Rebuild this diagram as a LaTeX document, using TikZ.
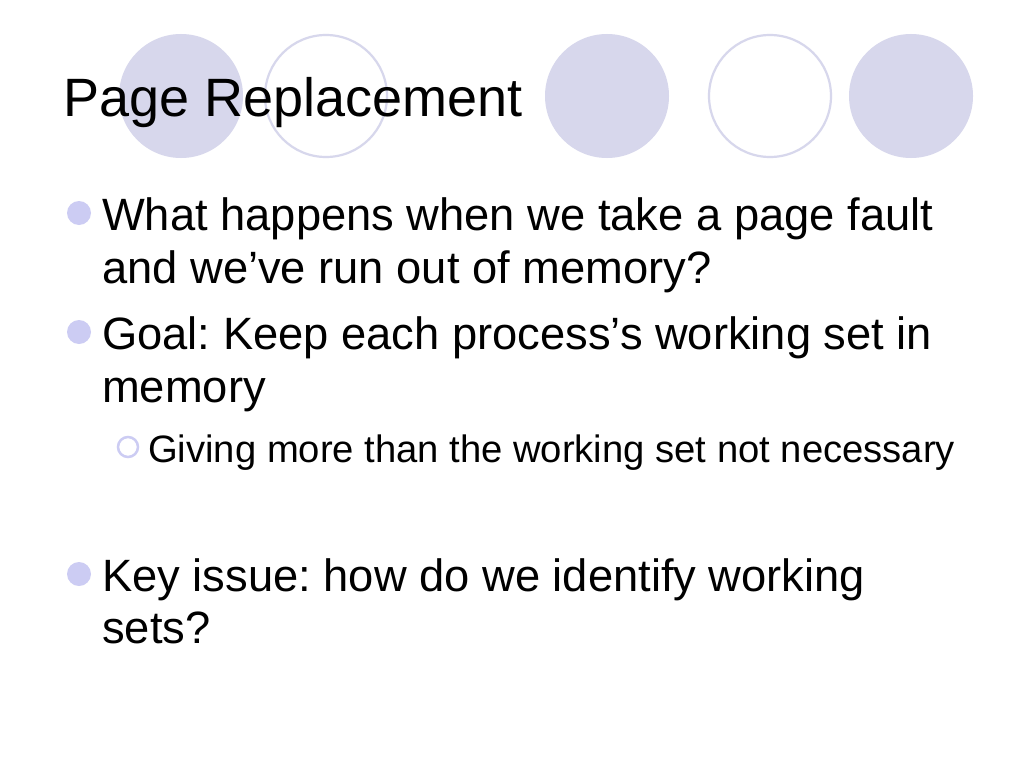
\documentclass[tikz,border=0pt]{standalone}
\usepackage{fontspec}
\setmainfont{Liberation Sans}
\frenchspacing
\definecolor{lav}{RGB}{215,215,236}
\definecolor{bulc}{RGB}{204,204,243}
\tikzset{
  deco/.style={circle, fill=lav, minimum size=124pt, inner sep=0pt},
  decoring/.style={circle, draw=lav, line width=2.2pt, fill=white, minimum size=122pt, inner sep=0pt},
  titletext/.style={anchor=base west, inner sep=0pt, font=\fontsize{54}{60}\selectfont},
  body/.style={anchor=base west, inner sep=0pt, font=\fontsize{45.3}{54}\selectfont},
  subtext/.style={anchor=base west, inner sep=0pt, font=\fontsize{38.2}{46}\selectfont},
  bul/.style={circle, fill=bulc, minimum size=24pt, inner sep=0pt},
  subbul/.style={circle, draw=bulc, line width=2.5pt, minimum size=20pt, inner sep=0pt}
}
\begin{document}
\begin{tikzpicture}[x=1pt,y=-1pt]
\useasboundingbox[fill=white] (0,0) rectangle (1024,768);
% decorative circles
\node[deco]     (c1) at (181,96) {};
\node[decoring] (c2) at (326,96) {};
\node[deco]     (c3) at (607,96) {};
\node[decoring] (c4) at (770,96) {};
\node[deco]     (c5) at (911,96) {};
% title
\node[titletext] (title) at (63,116) {Page Replacement};
% bullets
\node[bul] (b1) at (79,213) {};
\node[body] (l1a) at (102,230) {What happens when we take a page fault};
\node[body] (l1b) at (102,283) {and we’ve run out of memory?};
\node[bul] (b2) at (79,332) {};
\node[body] (l2a) at (102,349) {Goal: Keep each process’s working set in};
\node[body] (l2b) at (102,402) {memory};
\node[subbul] (s1) at (128,447) {};
\node[subtext] (l3) at (148,462) {Giving more than the working set not necessary};
\node[bul] (b3) at (79,574) {};
\node[body] (l4a) at (102,591) {Key issue: how do we identify working};
\node[body] (l4b) at (102,643) {sets?};
\end{tikzpicture}
\end{document}
